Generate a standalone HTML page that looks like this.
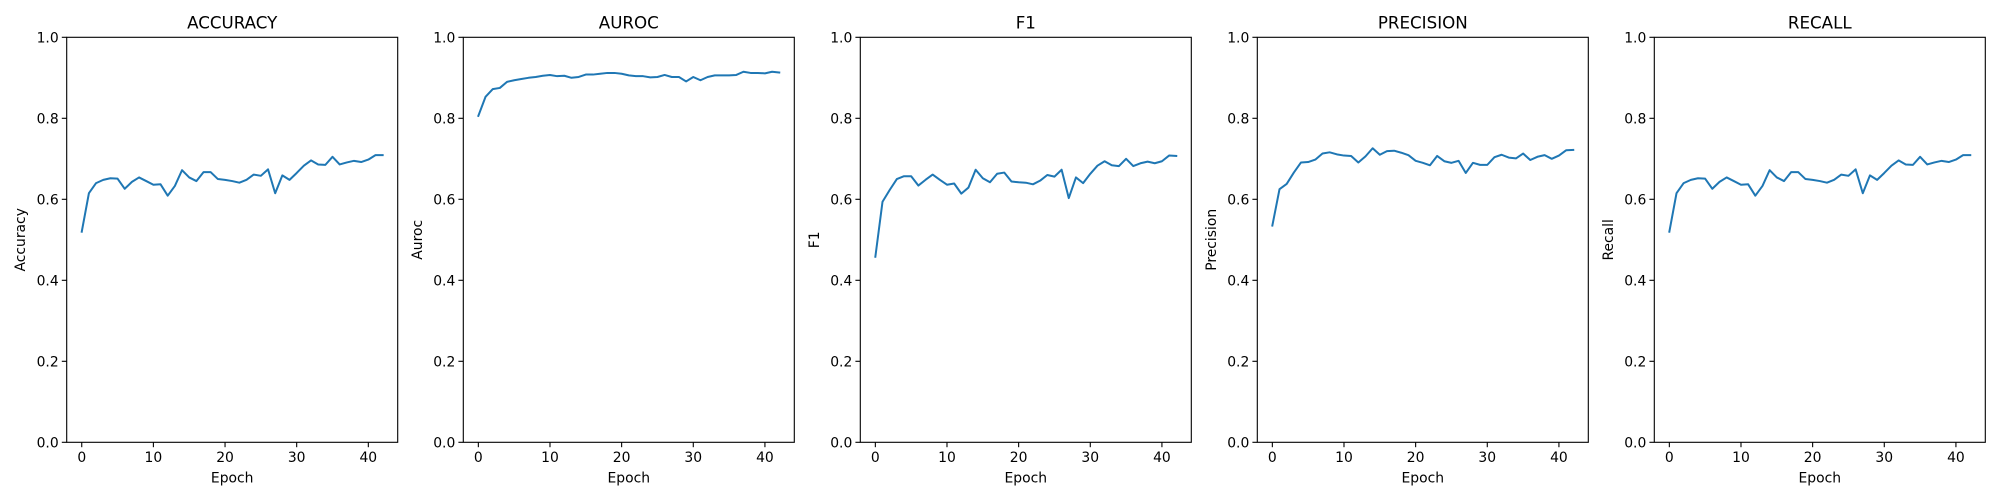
<!DOCTYPE html>
<html><head><meta charset="utf-8"><style>
html,body{margin:0;padding:0;background:#fff;}
svg{display:block;font-family:"DejaVu Sans","Liberation Sans",sans-serif;}
</style></head><body>
<svg id="fig" width="2000" height="500" viewBox="0 0 2000 500" xmlns="http://www.w3.org/2000/svg"></svg>
<script>
const epochs = Array.from({length:43},(_, i)=>i);
const accuracyValues = [0.520,0.615,0.640,0.648,0.652,0.651,0.626,0.643,0.654,0.645,0.636,0.637,0.609,0.633,0.672,0.654,0.645,0.667,0.667,0.650,0.648,0.645,0.641,0.648,0.661,0.658,0.674,0.615,0.659,0.648,0.665,0.683,0.696,0.686,0.685,0.705,0.686,0.691,0.695,0.692,0.698,0.709,0.709];
const aurocValues = [0.806,0.853,0.872,0.875,0.890,0.894,0.897,0.900,0.902,0.905,0.907,0.904,0.905,0.900,0.902,0.908,0.908,0.910,0.912,0.912,0.910,0.906,0.904,0.904,0.901,0.902,0.907,0.902,0.902,0.891,0.902,0.894,0.902,0.906,0.906,0.906,0.907,0.915,0.912,0.912,0.911,0.915,0.913];
const f1Values = [0.458,0.594,0.623,0.650,0.657,0.657,0.634,0.648,0.661,0.648,0.636,0.639,0.614,0.629,0.673,0.652,0.642,0.663,0.666,0.644,0.642,0.641,0.637,0.646,0.660,0.656,0.673,0.603,0.654,0.640,0.663,0.683,0.694,0.684,0.682,0.700,0.682,0.689,0.693,0.689,0.694,0.708,0.707];
const precisionValues = [0.535,0.625,0.638,0.666,0.691,0.692,0.698,0.713,0.716,0.711,0.708,0.707,0.691,0.706,0.726,0.710,0.719,0.720,0.715,0.709,0.695,0.690,0.684,0.707,0.694,0.690,0.695,0.665,0.690,0.685,0.685,0.704,0.710,0.703,0.701,0.713,0.697,0.705,0.709,0.700,0.708,0.721,0.722];
const recallValues = [0.520,0.615,0.640,0.648,0.652,0.651,0.626,0.643,0.654,0.645,0.636,0.637,0.609,0.633,0.672,0.654,0.645,0.667,0.667,0.650,0.648,0.645,0.641,0.648,0.661,0.658,0.674,0.615,0.659,0.648,0.665,0.683,0.696,0.686,0.685,0.705,0.686,0.691,0.695,0.692,0.698,0.709,0.709];
const titles = ["ACCURACY","AUROC","F1","PRECISION","RECALL"];
const ylabels = ["Accuracy","Auroc","F1","Precision","Recall"];
const yTicks = ["0.0","0.2","0.4","0.6","0.8","1.0"];
const xTicks = [0,10,20,30,40];
const series = [accuracyValues,aurocValues,f1Values,precisionValues,recallValues];

const NS="http://www.w3.org/2000/svg";
const svg=document.getElementById('fig');
const lefts=[66.7,463.3,860.3,1257.3,1654.3];
const W=331, TOP=37.3, BOT=442.3;
function mk(tag,attrs,parent){const e=document.createElementNS(NS,tag);for(const k in attrs)e.setAttribute(k,attrs[k]);(parent||svg).appendChild(e);return e;}
for(let p=0;p<5;p++){
  const L=lefts[p], R=L+W;
  const g=mk('g',{});
  
  
  const xs=v=>L+(v+2.1)/46.2*W;
  const ys=v=>BOT-v*(BOT-TOP);
  // line
  const d=series[p].map((v,i)=>(i?'L':'M')+xs(epochs[i]).toFixed(2)+' '+ys(v).toFixed(2)).join(' ');
  const path=mk('path',{d:d,fill:'none',stroke:'#1f77b4','stroke-width':2,'stroke-linejoin':'round','stroke-linecap':'square'},g);
  
  
  const frame=mk('rect',{x:L,y:TOP,width:W,height:BOT-TOP,fill:'none',stroke:'#000','stroke-width':1.1},g);
  
  
  yTicks.forEach(t=>{
    const y=ys(parseFloat(t));
    mk('line',{x1:L-4.9,x2:L,y1:y,y2:y,stroke:'#000','stroke-width':1.1},g);
    const tx=mk('text',{x:L-8,y:y+5,'text-anchor':'end','font-size':13.9,fill:'#000'},g);
    tx.textContent=t;
    
    
  });
  xTicks.forEach(t=>{
    const x=xs(t);
    mk('line',{x1:x,x2:x,y1:BOT,y2:BOT+4.9,stroke:'#000','stroke-width':1.1},g);
    const tx=mk('text',{x:x,y:462,'text-anchor':'middle','font-size':13.9,fill:'#000'},g);
    tx.textContent=t;
    
    
  });
  const ti=mk('text',{x:L+W/2,y:28.5,'text-anchor':'middle','font-size':16.7,fill:'#000'},g);
  ti.textContent=titles[p];
  
  
  const xl=mk('text',{x:L+W/2,y:482.5,'text-anchor':'middle','font-size':13.9,fill:'#000'},g);
  xl.textContent='Epoch';
  
  
  const cy=(TOP+BOT)/2, cx=L-45.5;
  const yl=mk('text',{x:cx,y:cy,'text-anchor':'middle','dominant-baseline':'central','font-size':13.9,fill:'#000',transform:`rotate(-90 ${cx} ${cy})`},g);
  yl.textContent=ylabels[p];
  
  
}
</script>
</body></html>
